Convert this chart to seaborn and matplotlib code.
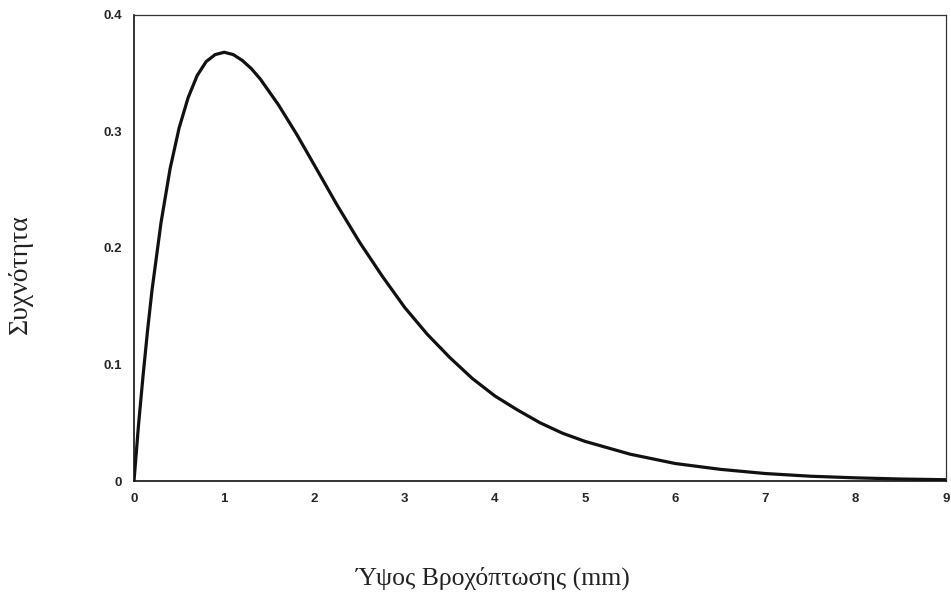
import matplotlib
matplotlib.use("Agg")
import matplotlib.pyplot as plt
import seaborn as sns
import pandas as pd

# values
height_mm = [0, 0.05, 0.1, 0.15, 0.2, 0.3, 0.4, 0.5, 0.6, 0.7, 0.8, 0.9, 1.0,
             1.1, 1.2, 1.3, 1.4, 1.6, 1.8, 2.0, 2.25, 2.5, 2.75, 3.0, 3.25,
             3.5, 3.75, 4.0, 4.25, 4.5, 4.75, 5.0, 5.5, 6.0, 6.5, 7.0, 7.5,
             8.0, 8.5, 9.0]
frequency = [0, 0.048, 0.090, 0.129, 0.164, 0.222, 0.268, 0.303, 0.329,
             0.348, 0.360, 0.366, 0.368, 0.366, 0.361, 0.354, 0.345, 0.323,
             0.298, 0.271, 0.237, 0.205, 0.176, 0.149, 0.126, 0.106, 0.088,
             0.073, 0.061, 0.050, 0.041, 0.034, 0.023, 0.015, 0.010, 0.0064,
             0.0041, 0.0027, 0.0017, 0.0011]
x_ticks = [0, 1, 2, 3, 4, 5, 6, 7, 8, 9]
y_ticks = [0, 0.1, 0.2, 0.3, 0.4]

df = pd.DataFrame({"x": height_mm, "y": frequency})

sns.set_style("white")
fig = plt.figure(figsize=(9.51, 5.92), dpi=100)
ax = fig.add_axes([0.1409, 0.1875, 0.8538, 0.7872])

sns.lineplot(data=df, x="x", y="y", ax=ax, color="#111111", linewidth=2.3)

ax.set_xlim(0, 9)
ax.set_ylim(0, 0.4)
ax.set_xticks(x_ticks)
ax.set_yticks(y_ticks)
ax.set_xticklabels([str(t) for t in x_ticks])
ax.set_yticklabels(["0", "0.1", "0.2", "0.3", "0.4"])
for lab in ax.get_xticklabels() + ax.get_yticklabels():
    lab.set_fontfamily("Liberation Sans")
    lab.set_fontweight("bold")
    lab.set_fontsize(9.5)

ax.tick_params(axis="both", direction="inout", length=5, width=0.8,
               color="#999999", pad=6)
for side in ["left", "bottom"]:
    ax.spines[side].set_color("#111111")
    ax.spines[side].set_linewidth(1.2)
for side in ["top", "right"]:
    ax.spines[side].set_color("#333333")
    ax.spines[side].set_linewidth(0.9)

ax.set_xlabel("Ύψος Βροχόπτωσης (mm)", fontfamily="Liberation Serif",
              fontsize=18.5, color="#222222", va="center")
ax.set_ylabel("Συχνότητα", fontfamily="Liberation Serif",
              fontsize=20, color="#222222", va="center")
ax.xaxis.set_label_coords(0.443, -0.208)
ax.yaxis.set_label_coords(-0.140, 0.444)

fig.savefig("out.png", dpi=100)
